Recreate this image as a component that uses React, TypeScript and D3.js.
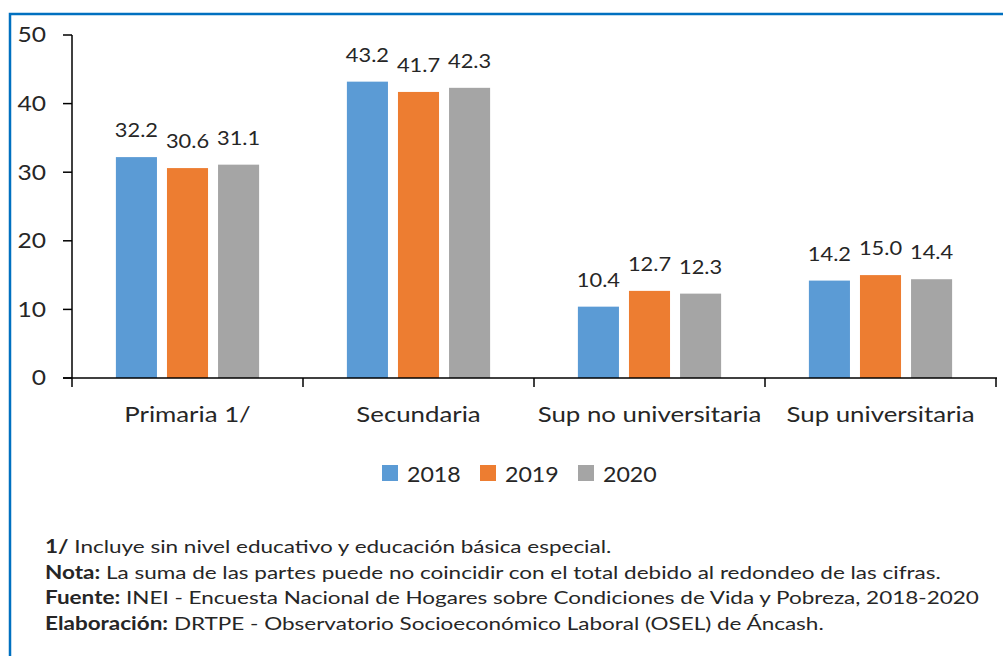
import React from "react";
import * as d3 from "d3";

const categories = ["Primaria 1/", "Secundaria", "Sup no universitaria", "Sup universitaria"];
const seriesNames = ["2018", "2019", "2020"];
const values2018 = [32.2, 43.2, 10.4, 14.2];
const values2019 = [30.6, 41.7, 12.7, 15.0];
const values2020 = [31.1, 42.3, 12.3, 14.4];
const yTicks = [0, 10, 20, 30, 40, 50];
const notes = [
  { bold: "1/", text: " Incluye sin nivel educativo y educación básica especial." },
  { bold: "Nota:", text: " La suma de las partes puede no coincidir con el total debido al redondeo de las cifras." },
  { bold: "Fuente:", text: " INEI - Encuesta Nacional de Hogares sobre Condiciones de Vida y Pobreza, 2018-2020" },
  { bold: "Elaboración:", text: " DRTPE - Observatorio Socioeconómico Laboral (OSEL) de Áncash." },
];

const colors = ["#5B9BD5", "#ED7D31", "#A5A5A5"];
const FONT = "Lato, 'Open Sans', sans-serif";
const TEXT = "#262626";

function Txt({ x, y, sx = 1, size, anchor = "start", dy, children }: any) {
  return (
    <g transform={`translate(${x},${y}) scale(${sx},1)`}>
      <text x={0} y={0} dy={dy} textAnchor={anchor} fontSize={size} fill={TEXT}>
        {children}
      </text>
    </g>
  );
}

export default function App() {
  const W = 1003, H = 656;
  const x0 = d3.scaleBand<string>().domain(categories).range([72, 996]).padding(0);
  const groupW = x0.bandwidth() * 0.62;
  const x1 = d3.scaleBand<string>().domain(seriesNames).range([0, groupW]).paddingInner(0.196).paddingOuter(0);
  const y = d3.scaleLinear().domain([0, 50]).range([378, 35]);
  const series = [values2018, values2019, values2020];

  return (
    <svg width={W} height={H} style={{ position: "absolute", left: 0, top: 0 }} fontFamily={FONT}>
      <rect x={0} y={0} width={W} height={H} fill="#fff" />
      <rect x={10} y={14} width={1100} height={800} fill="none" stroke="#0070C0" strokeWidth={2.5} />
      {categories.map((c, ci) => {
        const gx = (x0(c) as number) + (x0.bandwidth() - groupW) / 2;
        return (
          <g key={c}>
            {seriesNames.map((s, si) => {
              const v = series[si][ci];
              const bx = gx + (x1(s) as number);
              return (
                <g key={s}>
                  <rect x={bx} y={y(v)} width={x1.bandwidth()} height={y(0) - y(v)} fill={colors[si]} />
                  <Txt x={bx + x1.bandwidth() / 2} y={y(v) - 20} sx={1.12} size={19.5} anchor="middle">
                    {v.toFixed(1)}
                  </Txt>
                </g>
              );
            })}
            <Txt x={(x0(c) as number) + x0.bandwidth() / 2} y={422} sx={1.23} size={21} anchor="middle">
              {c}
            </Txt>
          </g>
        );
      })}
      <line x1={72} x2={72} y1={y(50)} y2={y(0)} stroke="#000" strokeWidth={1.5} />
      {yTicks.map((t) => (
        <g key={t}>
          <line x1={63} x2={72} y1={y(t)} y2={y(t)} stroke="#000" strokeWidth={1.5} />
          <Txt x={46} y={y(t)} dy="0.36em" sx={1.2} size={20.5} anchor="end">
            {t}
          </Txt>
        </g>
      ))}
      <line x1={63} x2={997} y1={y(0)} y2={y(0)} stroke="#000" strokeWidth={1.5} />
      {[...categories.map((c) => x0(c) as number), 996].map((bx, i) => (
        <line key={i} x1={bx} x2={bx} y1={y(0)} y2={y(0) + 9} stroke="#000" strokeWidth={1.5} />
      ))}
      {seriesNames.map((s, i) => {
        const lx = 382 + i * 98;
        return (
          <g key={s}>
            <rect x={lx} y={465} width={16} height={16} fill={colors[i]} />
            <Txt x={lx + 25} y={482} sx={1.13} size={20.5}>
              {s}
            </Txt>
          </g>
        );
      })}
      {notes.map((n, i) => (
        <Txt key={i} x={45} y={553 + i * 25.7} sx={1.25} size={18}>
          <tspan fontWeight="bold">{n.bold}</tspan>
          <tspan>{n.text}</tspan>
        </Txt>
      ))}
    </svg>
  );
}
